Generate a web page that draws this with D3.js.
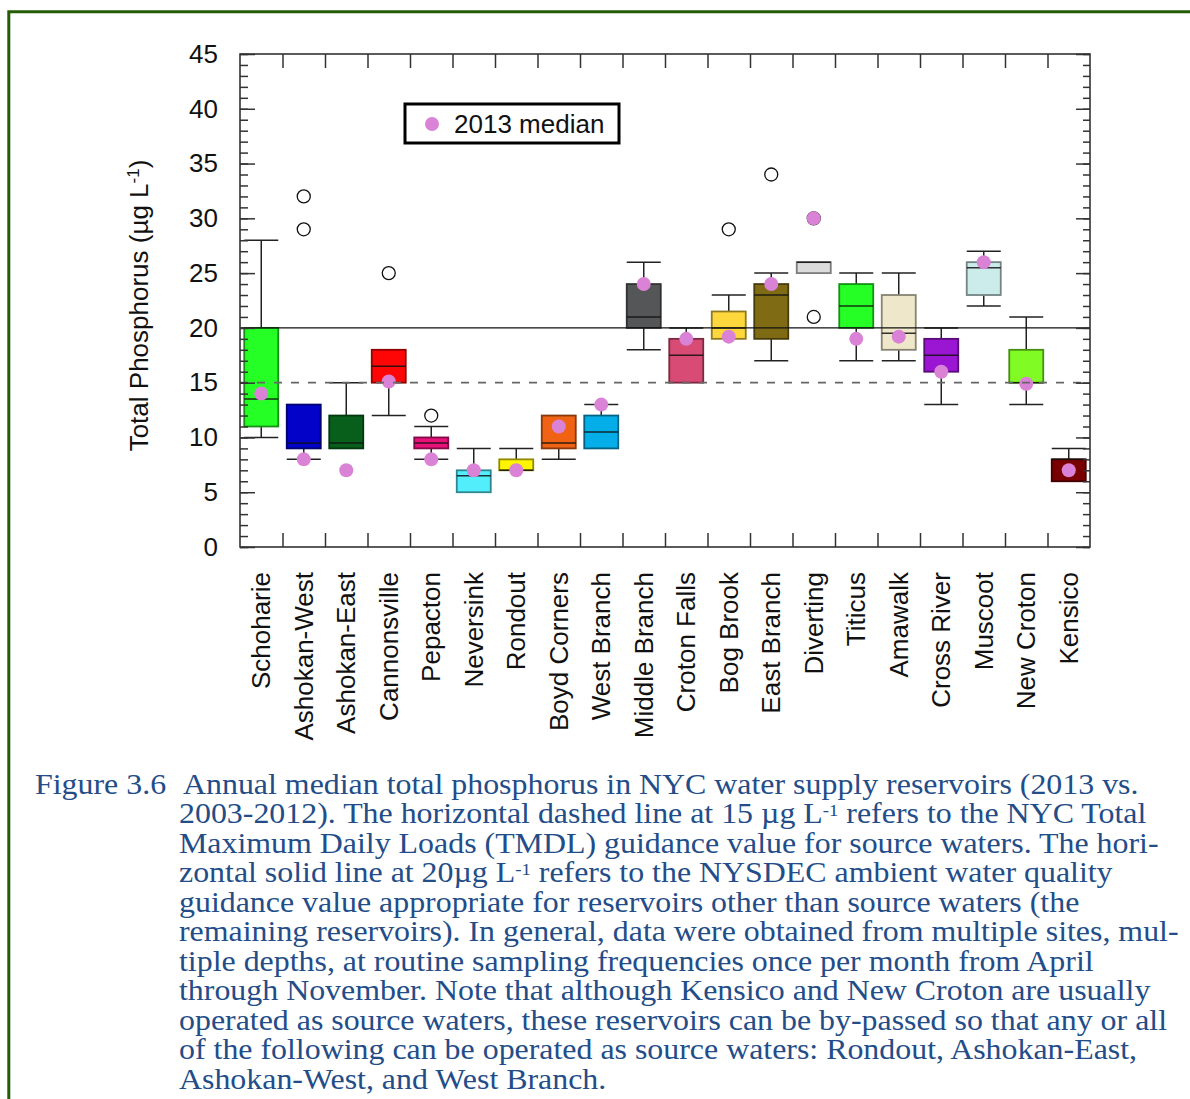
<!DOCTYPE html>
<html>
<head>
<meta charset="utf-8">
<script src="https://cdn.jsdelivr.net/npm/d3@7"></script>
<style>
  body { margin: 0; background: #fff; }
  svg { display: block; }
</style>
</head>
<body>
<div class="container"></div>
<script>
"use strict";

// reservoirs, left to right
const reservoirs = ["Schoharie", "Ashokan-West", "Ashokan-East", "Cannonsville", "Pepacton",
  "Neversink", "Rondout", "Boyd Corners", "West Branch", "Middle Branch", "Croton Falls",
  "Bog Brook", "East Branch", "Diverting", "Titicus", "Amawalk", "Cross River", "Muscoot",
  "New Croton", "Kensico"];

// 2003-2012 box stats (null = no whisker drawn)
const whiskerLow = [10, 8, null, 12, 8, null, null, 8, null, 18, null, null, 17, null, 17, 17, 13, 22, 13, null];
const q1 = [11, 9, 9, 15, 9, 5, 7, 9, 9, 20, 15, 19, 19, 25, 20, 18, 16, 23, 15, 6];
const medians = [13.5, 9.5, 9.5, 16.5, 9.5, 6.5, 7, 9.5, 10.5, 21, 17.5, 20, 23, 26, 22, 19.5, 17.5, 25.5, 15, 8];
const q3 = [20, 13, 12, 18, 10, 7, 8, 12, 12, 24, 19, 21.5, 24, 26, 24, 23, 19, 26, 18, 8];
const whiskerHigh = [28, null, 15, null, 11, 9, 9, null, 13, 26, 20, 23, 25, null, 25, 25, 20, 27, 21, 9];
const outliers = [[], [32, 29], [], [25], [12], [], [], [], [], [], [], [29], [34], [30, 21], [], [], [], [], [], []];

// 2013 medians
const median2013 = [14, 8, 7, 15.1, 8, 7, 7, 11, 13, 24, 19, 19.2, 24, 30, 19, 19.2, 16, 26, 14.9, 7];

const boxColors = ["#26ff26", "#0202c8", "#075f1b", "#ff0606", "#e8137a", "#52eefc", "#fff500",
  "#f06314", "#04aee8", "#555658", "#d84b74", "#fdd73c", "#7f6b14", "#dcdcdc", "#26ff26",
  "#eee7c9", "#9a16d2", "#cbecea", "#80fb24", "#790000"];

const yTicks = [0, 5, 10, 15, 20, 25, 30, 35, 40, 45];
const refSolid = 20;
const refDashed = 15;

const captionLines = [
  "2003-2012). The horizontal dashed line at 15 µg L|-1| refers to the NYC Total",
  "Maximum Daily Loads (TMDL) guidance value for source waters. The hori-",
  "zontal solid line at 20µg L|-1| refers to the NYSDEC ambient water quality",
  "guidance value appropriate for reservoirs other than source waters (the",
  "remaining reservoirs). In general, data were obtained from multiple sites, mul-",
  "tiple depths, at routine sampling frequencies once per month from April",
  "through November. Note that although Kensico and New Croton are usually",
  "operated as source waters, these reservoirs can be by-passed so that any or all",
  "of the following can be operated as source waters: Rondout, Ashokan-East,",
  "Ashokan-West, and West Branch."
];

const W = 1190, H = 1099;
const margin = { top: 54, left: 240 };
const width = 850, height = 493;
const sans = "'Liberation Sans', Arial, Helvetica, sans-serif";
const serif = "'Liberation Serif', 'Times New Roman', serif";
const capColor = "#234d88";
const fs = 26;

const svg = d3.select(".container").append("svg")
  .attr("width", W).attr("height", H);

// page frame (top and left edges)
svg.append("path")
  .attr("d", `M8.8,${H} V11.8 H${W}`)
  .attr("fill", "none")
  .attr("stroke", "#245c06")
  .attr("stroke-width", 3);

const g = svg.append("g").attr("transform", `translate(${margin.left},${margin.top})`);

const x = d3.scaleBand().domain(reservoirs).range([0, width]).padding(0);
const xEdge = d3.scaleLinear().domain([0, reservoirs.length]).range([0, width]);
const y = d3.scaleLinear().domain([0, 45]).range([height, 0]);
const boxW = 34;

// boxes
const items = reservoirs.map((name, i) => ({
  name, i, lo: whiskerLow[i], q1: q1[i], med: medians[i], q3: q3[i], hi: whiskerHigh[i],
  out: outliers[i], m13: median2013[i], color: boxColors[i]
}));

const box = g.append("g").selectAll("g").data(items).enter().append("g")
  .attr("transform", (d) => `translate(${x(d.name) + x.bandwidth() / 2},0)`);

// whiskers
box.filter((d) => d.hi !== null).append("line")
  .attr("y1", (d) => y(d.q3)).attr("y2", (d) => y(d.hi))
  .attr("stroke", "#222").attr("stroke-width", 1.5);
box.filter((d) => d.hi !== null).append("line")
  .attr("x1", -boxW / 2).attr("x2", boxW / 2)
  .attr("y1", (d) => y(d.hi)).attr("y2", (d) => y(d.hi))
  .attr("stroke", "#222").attr("stroke-width", 1.5);
box.filter((d) => d.lo !== null).append("line")
  .attr("y1", (d) => y(d.q1)).attr("y2", (d) => y(d.lo))
  .attr("stroke", "#222").attr("stroke-width", 1.5);
box.filter((d) => d.lo !== null).append("line")
  .attr("x1", -boxW / 2).attr("x2", boxW / 2)
  .attr("y1", (d) => y(d.lo)).attr("y2", (d) => y(d.lo))
  .attr("stroke", "#222").attr("stroke-width", 1.5);

box.append("rect")
  .attr("x", -boxW / 2).attr("width", boxW)
  .attr("y", (d) => y(d.q3))
  .attr("height", (d) => y(d.q1) - y(d.q3))
  .attr("fill", (d) => d.color)
  .attr("stroke", (d) => d3.color(d.color).darker(1.6))
  .attr("stroke-width", 1.8);

box.append("line")
  .attr("x1", -boxW / 2).attr("x2", boxW / 2)
  .attr("y1", (d) => y(d.med)).attr("y2", (d) => y(d.med))
  .attr("stroke", "#111").attr("stroke-width", 1.5)
  .attr("stroke-opacity", 0.85);

// guidance lines
g.append("line")
  .attr("x1", 0).attr("x2", width)
  .attr("y1", y(refSolid)).attr("y2", y(refSolid))
  .attr("stroke", "#111").attr("stroke-width", 1.2);
g.append("line")
  .attr("x1", 0).attr("x2", width)
  .attr("y1", y(refDashed)).attr("y2", y(refDashed))
  .attr("stroke", "#666").attr("stroke-width", 1.6)
  .attr("stroke-dasharray", "8,9");

// outliers
box.selectAll("circle.out").data((d) => d.out).enter().append("circle")
  .attr("class", "out")
  .attr("cy", (v) => y(v)).attr("r", 6.5)
  .attr("fill", "#fff").attr("stroke", "#111").attr("stroke-width", 1.3);

// 2013 medians
box.append("circle")
  .attr("cy", (d) => y(d.m13)).attr("r", 7)
  .attr("fill", "#da82d6");

// axes
const axisStyle = (sel) => {
  sel.select(".domain").remove();
  sel.selectAll(".tick line").attr("stroke", "#333").attr("stroke-width", 1.5);
  sel.selectAll("text").attr("font-family", sans).attr("font-size", fs).attr("fill", "#111");
};

g.append("g")
  .call(d3.axisLeft(y).tickValues(d3.range(0, 46, 1)).tickSize(-8).tickFormat(""))
  .call(axisStyle);
g.append("g")
  .call(d3.axisLeft(y).tickValues(yTicks).tickSize(-15).tickPadding(22).tickFormat(d3.format("d")))
  .call(axisStyle);
g.append("g").attr("transform", `translate(${width},0)`)
  .call(d3.axisRight(y).tickValues(d3.range(0, 46, 1)).tickSize(-7).tickFormat(""))
  .call(axisStyle);
g.append("g").attr("transform", `translate(${width},0)`)
  .call(d3.axisRight(y).tickValues(yTicks).tickSize(-14).tickFormat(""))
  .call(axisStyle);
g.append("g")
  .call(d3.axisTop(xEdge).tickValues(d3.range(1, reservoirs.length)).tickSize(-14).tickFormat(""))
  .call(axisStyle);
g.append("g").attr("transform", `translate(0,${height})`)
  .call(d3.axisBottom(xEdge).tickValues(d3.range(1, reservoirs.length)).tickSize(-14).tickFormat(""))
  .call(axisStyle);

g.append("rect")
  .attr("width", width).attr("height", height)
  .attr("fill", "none").attr("stroke", "#333").attr("stroke-width", 1.6);

// category labels
g.append("g").selectAll("text").data(reservoirs).enter().append("text")
  .attr("transform", (d) => `translate(${x(d) + x.bandwidth() / 2},${height + 25}) rotate(-90)`)
  .attr("dy", "0.35em")
  .attr("text-anchor", "end")
  .attr("font-family", sans).attr("font-size", fs).attr("fill", "#111")
  .text((d) => d);

// y title
const yTitle = svg.append("text")
  .attr("transform", `translate(148,${margin.top + height / 2 + 5}) rotate(-90)`)
  .attr("text-anchor", "middle")
  .attr("font-family", sans).attr("font-size", fs).attr("fill", "#111");
yTitle.append("tspan").text("Total Phosphorus (µg L");
yTitle.append("tspan").attr("dy", -9).attr("font-size", 17).text("-1");
yTitle.append("tspan").attr("dy", 9).text(")");

// legend
const legend = svg.append("g").attr("transform", "translate(405,104)");
legend.append("rect").attr("width", 214).attr("height", 39)
  .attr("fill", "#fff").attr("stroke", "#000").attr("stroke-width", 3);
legend.append("circle").attr("cx", 27).attr("cy", 20).attr("r", 7).attr("fill", "#da82d6");
legend.append("text").attr("x", 49).attr("y", 29)
  .attr("font-family", sans).attr("font-size", fs).attr("fill", "#111")
  .text("2013 median");

// caption (the original type is set a little wide)
const cap = svg.append("g").attr("font-family", serif).attr("font-size", 29).attr("fill", capColor);
const capText = (px, py) => cap.append("text")
  .attr("transform", `translate(${px},${py}) scale(1.1,1)`);
capText(35, 794).text("Figure 3.6");
capText(183, 794).text("Annual median total phosphorus in NYC water supply reservoirs (2013 vs.");
captionLines.forEach((line, i) => {
  const t = capText(179, 794 + 29.45 * (i + 1));
  line.split("|").forEach((part, j) => {
    if (j % 2 === 1) {
      t.append("tspan").attr("dy", -7).attr("font-size", 17).text(part);
    } else {
      t.append("tspan").attr("dy", j > 0 ? 7 : 0).text(part);
    }
  });
});
</script>
</body>
</html>
